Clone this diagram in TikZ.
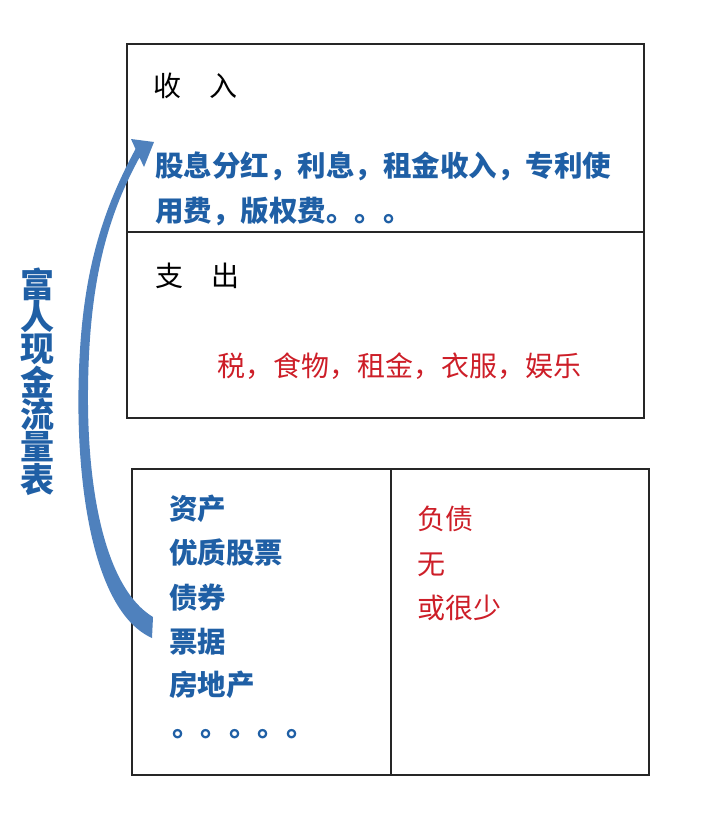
\documentclass[tikz,border=0pt]{standalone}
\usepackage{fontspec}
\newfontfamily\cjk{Noto Sans CJK SC}
\definecolor{txtblue}{RGB}{31,95,165}
\definecolor{txtred}{RGB}{205,30,40}
\definecolor{arrblue}{RGB}{79,129,189}
\begin{document}
\begin{tikzpicture}[x=1pt,y=-1pt,
  boxline/.style={draw=black!85,line width=2pt},
  lbl/.style={anchor=base west,inner sep=0pt,font=\cjk\fontsize{28}{28}\selectfont},
  bluetxt/.style={lbl,text=txtblue,font=\cjk\bfseries\fontsize{28.5}{28.5}\selectfont},
  redtxt/.style={lbl,text=txtred},
  vchar/.style={anchor=center,inner sep=0pt,text=txtblue,font=\cjk\bfseries\fontsize{34}{34}\selectfont}]
\useasboundingbox (0,0) rectangle (704,822);
% boxes
\draw[boxline] (127,44) rectangle (644,418);
\draw[boxline] (127,232) -- (644,232);
\draw[boxline] (132,469) rectangle (649,775);
\draw[boxline] (391,469) -- (391,775);
% top box texts
\node[lbl] (inc) at (153,96) {收　入};
\node[bluetxt] (incA) at (155,176) {股息分红，利息，租金收入，专利使};
\node[bluetxt] (incB) at (155,221) {用费，版权费。。。};
\node[lbl] (exp) at (155,286) {支　出};
\node[redtxt] (expA) at (217,376) {税，食物，租金，衣服，娱乐};
% bottom left
\node[bluetxt] (a1) at (169,519) {资产};
\node[bluetxt] (a2) at (169,563) {优质股票};
\node[bluetxt] (a3) at (169,608) {债券};
\node[bluetxt] (a4) at (169,652) {票据};
\node[bluetxt] (a5) at (169,695) {房地产};
\node[bluetxt] (a6) at (172,736) {。。。。。};
% bottom right
\node[redtxt] (l1) at (417,529) {负债};
\node[redtxt] (l2) at (417,574) {无};
\node[redtxt] (l3) at (417,618) {或很少};
% vertical title
\foreach \c [count=\i] in {富,人,现,金,流,量,表}{
  \node[vchar] (v\i) at (37.5,{268+16.25+32.5*(\i-1)}) {\c};
}
% curved arrow
\fill[arrblue] (152,638) .. controls (94,612) and (77,490) .. (78.5,390)
  .. controls (80,280) and (100,215) .. (135.5,149)
  -- (131,139) -- (154,142) -- (144,167) -- (139.5,157.5)
  .. controls (108,215) and (89,280) .. (88,390)
  .. controls (87,490) and (105,588) .. (153,617) -- cycle;
\end{tikzpicture}
\end{document}
